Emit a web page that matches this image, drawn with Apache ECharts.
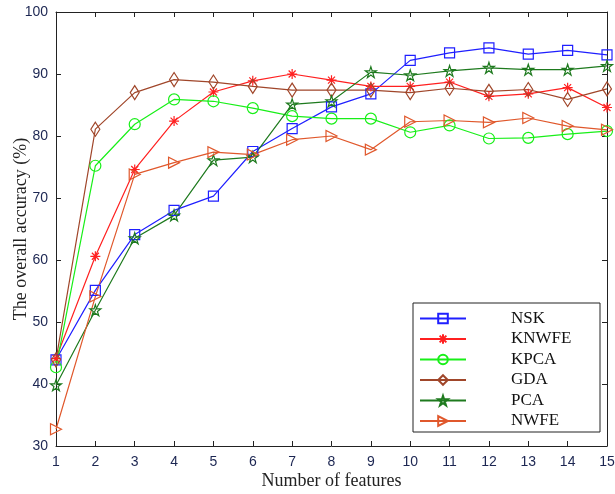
<!DOCTYPE html>
<html>
<head>
<meta charset="utf-8">
<script src="https://cdn.jsdelivr.net/npm/echarts@6/dist/echarts.min.js"></script>
<style>
  html, body { margin: 0; padding: 0; background: #fff; }
  #chart { width: 615px; height: 494px; }
</style>
</head>
<body>
<div id="chart"></div>
<script>
// Data
const features = ['1','2','3','4','5','6','7','8','9','10','11','12','13','14','15'];
const nsk   = [43.9, 55.1, 64.1, 68.0, 70.3, 77.5, 81.2, 84.7, 86.8, 92.2, 93.4, 94.2, 93.2, 93.8, 93.1];
const knwfe = [44.1, 60.6, 74.6, 82.4, 87.1, 88.9, 90.0, 89.0, 88.0, 88.0, 88.7, 86.4, 86.8, 87.8, 84.6];
const kpca  = [42.7, 75.2, 81.9, 85.9, 85.6, 84.5, 83.2, 82.8, 82.8, 80.6, 81.7, 79.6, 79.7, 80.3, 80.8];
const gda   = [43.9, 81.1, 87.0, 89.1, 88.7, 88.0, 87.4, 87.4, 87.4, 87.0, 87.7, 87.2, 87.5, 85.9, 87.6];
const pca   = [39.8, 51.9, 63.5, 67.2, 76.1, 76.6, 85.1, 85.6, 90.3, 89.8, 90.5, 91.0, 90.7, 90.7, 91.3];
const nwfe  = [32.7, 54.1, 73.8, 75.7, 77.4, 77.0, 79.4, 80.0, 77.8, 82.3, 82.5, 82.2, 82.9, 81.6, 81.0];

const chart = echarts.init(document.getElementById('chart'));

const asterisk = 'path://M5,0 L5,10 M0,5 L10,5 M1.5,1.5 L8.5,8.5 M8.5,1.5 L1.5,8.5';
const pentagram = 'path://M5,0 L6.2,3.6 L10,3.6 L6.9,5.9 L8.1,9.5 L5,7.3 L1.9,9.5 L3.1,5.9 L0,3.6 L3.8,3.6 Z';

function makeSeries(name, data, color, symbol, size, rotate) {
    return {
        name: name,
        type: 'line',
        data: data,
        symbol: symbol,
        symbolSize: size,
        symbolRotate: rotate || 0,
        showAllSymbol: true,
        lineStyle: { color: color, width: 1.2 },
        itemStyle: { color: 'rgba(255,255,255,0)', borderColor: color, borderWidth: 1.2 },
        emphasis: { disabled: true },
        animation: false
    };
}

const axisLabelFont = { fontFamily: 'Liberation Sans', fontSize: 14, color: '#1c2652' };

chart.setOption({
    backgroundColor: '#ffffff',
    grid: { left: 56, right: 8, top: 12, bottom: 48, containLabel: false, outerBoundsMode: 'none' },
    legend: {
        orient: 'vertical',
        left: 414,
        top: 305,
        itemWidth: 46,
        itemHeight: 12,
        itemGap: 3.5,
        data: ['NSK', 'KNWFE', 'KPCA', 'GDA', 'PCA', 'NWFE'],
        textStyle: { fontFamily: 'Liberation Serif', fontSize: 17, color: '#111', padding: [0, 0, 0, 40] }
    },
    graphic: [{
        type: 'rect',
        shape: { x: 413, y: 303, width: 187, height: 129 },
        style: { fill: 'none', stroke: '#222', lineWidth: 1 },
        z: 100
    }],
    xAxis: [{
        type: 'category',
        data: features,
        boundaryGap: false,
        name: 'Number of features',
        nameLocation: 'middle',
        nameGap: 26,
        nameMoveOverlap: false,
        nameTextStyle: { fontFamily: 'Liberation Serif', fontSize: 18, color: '#222' },
        axisLine: { lineStyle: { color: '#222' } },
        axisTick: { inside: true, length: 5, alignWithLabel: true, lineStyle: { color: '#222' } },
        axisLabel: Object.assign({ margin: 9 }, axisLabelFont),
        splitLine: { show: false }
    }, {
        type: 'category',
        data: features,
        boundaryGap: false,
        position: 'top',
        axisLine: { lineStyle: { color: '#222' } },
        axisTick: { inside: true, length: 5, lineStyle: { color: '#222' } },
        axisLabel: { show: false }
    }],
    yAxis: [{
        type: 'value',
        min: 30,
        max: 100,
        interval: 10,
        name: 'The overall accuracy (%)',
        nameLocation: 'middle',
        nameGap: 26,
        nameMoveOverlap: false,
        nameTextStyle: { fontFamily: 'Liberation Serif', fontSize: 18, color: '#222' },
        axisLine: { show: true, lineStyle: { color: '#222' } },
        axisTick: { show: true, inside: true, length: 5, lineStyle: { color: '#222' } },
        axisLabel: Object.assign({ margin: 8 }, axisLabelFont),
        splitLine: { show: false }
    }, {
        type: 'value',
        min: 30,
        max: 100,
        interval: 10,
        position: 'right',
        axisLine: { show: true, lineStyle: { color: '#222' } },
        axisTick: { show: true, inside: true, length: 5, lineStyle: { color: '#222' } },
        axisLabel: { show: false },
        splitLine: { show: false }
    }],
    series: [
        makeSeries('NSK', nsk, '#1f1fff', 'rect', 10),
        makeSeries('KNWFE', knwfe, '#ff2020', asterisk, 10),
        makeSeries('KPCA', kpca, '#18ef18', 'circle', 11),
        makeSeries('GDA', gda, '#a0462a', 'diamond', [9, 14]),
        makeSeries('PCA', pca, '#1e7a1e', pentagram, 11),
        makeSeries('NWFE', nwfe, '#e0582c', 'triangle', 11, -90)
    ]
});

window.addEventListener('resize', () => chart.resize());
</script>
</body>
</html>
